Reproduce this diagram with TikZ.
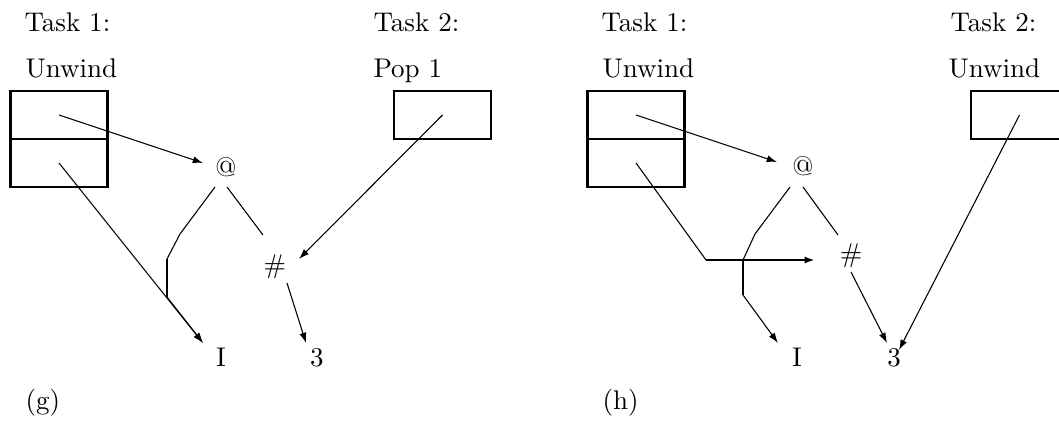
\documentclass[tikz,border=0pt]{standalone}
\usetikzlibrary{arrows.meta}
\begin{document}
\begin{tikzpicture}[x=0.37pt,y=-0.37pt,
  thinl/.style={line width=0.4pt},
  thickl/.style={line width=0.9pt},
  arr/.style={-{Latex[length=3.8pt,width=2.6pt]}},
  cell/.style={draw,line width=0.9pt,minimum width=35.9pt,minimum height=17.76pt,inner sep=0pt,outer sep=0pt},
  lbl/.style={anchor=base west,inner sep=0pt},
  sym/.style={inner sep=0pt},
  leaf/.style={anchor=base,inner sep=0pt}]
\clip (0,0) rectangle (1059,423);
% ---------------- panel (g) ----------------
\node[lbl] (gT1) at (24,32) {Task 1:};
\node[lbl] (gU1) at (25,78) {Unwind};
\node[lbl] (gT2) at (373,32) {Task 2:};
\node[lbl] (gP2) at (373,78) {Pop 1};
\node[cell] (gc1) at (59,115) {};
\node[cell] (gc2) at (59,163) {};
\node[cell] (gp) at (442.5,115) {};
\node[sym] (gat) at (226,167) {@};
\node[sym] (ghash) at (275,267) {\#};
\node[leaf] (gI) at (221,367) {I};
\node[leaf] (g3) at (317,367) {3};
\node[lbl] (glab) at (25,410) {(g)};
\coordinate (gaE) at (203,163);
\coordinate (gIE) at (203,343);
\coordinate (gL0) at (215,187);
\coordinate (gL1) at (180,234);
\coordinate (gL2) at (167,259);
\coordinate (gL3) at (167,297);
\coordinate (gR0) at (227,187);
\coordinate (gR1) at (263,235);
\coordinate (gH0) at (287,283);
\coordinate (g3E) at (306,343);
\coordinate (gPE) at (299,259);
\draw[thinl,arr] (gc1.center) -- (gaE);
\draw[thinl,arr] (gc2.center) -- (gIE);
\draw[thinl] (gL0) -- (gL1) -- (gL2);
\draw[thickl] (gL2) -- (gL3);
\draw[thinl,arr] (gL3) -- (gIE);
\draw[thinl] (gR0) -- (gR1);
\draw[thinl,arr] (gH0) -- (g3E);
\draw[thinl,arr] (gp.center) -- (gPE);
% ---------------- panel (h) ----------------
\node[lbl] (hT1) at (601,32) {Task 1:};
\node[lbl] (hU1) at (602,78) {Unwind};
\node[lbl] (hT2) at (950,32) {Task 2:};
\node[lbl] (hU2) at (948,78) {Unwind};
\node[cell] (hc1) at (636,115) {};
\node[cell] (hc2) at (636,163) {};
\node[cell] (hp) at (1019.5,115) {};
\node[sym] (hat) at (803,166) {@};
\node[sym] (hhash) at (851,256) {\#};
\node[leaf] (hI) at (797,367) {I};
\node[leaf] (h3) at (894,367) {3};
\node[lbl] (hlab) at (602,410) {(h)};
\coordinate (haE) at (777,162);
\coordinate (hB1) at (706,260);
\coordinate (hBE) at (815,260);
\coordinate (hL0) at (790,187);
\coordinate (hL1) at (755,234);
\coordinate (hL2) at (743,260);
\coordinate (hL3) at (743,295);
\coordinate (hIE) at (778,343);
\coordinate (hR0) at (803,187);
\coordinate (hR1) at (838,235);
\coordinate (hH0) at (851,272);
\coordinate (h3E) at (887,343);
\coordinate (hPE) at (899,350);
\draw[thinl,arr] (hc1.center) -- (haE);
\draw[thinl] (hc2.center) -- (hB1);
\draw[thickl,arr] (hB1) -- (hBE);
\draw[thinl] (hL0) -- (hL1) -- (hL2);
\draw[thickl] (hL2) -- (hL3);
\draw[thinl,arr] (hL3) -- (hIE);
\draw[thinl] (hR0) -- (hR1);
\draw[thinl,arr] (hH0) -- (h3E);
\draw[thinl,arr] (hp.center) -- (hPE);
\end{tikzpicture}
\end{document}
